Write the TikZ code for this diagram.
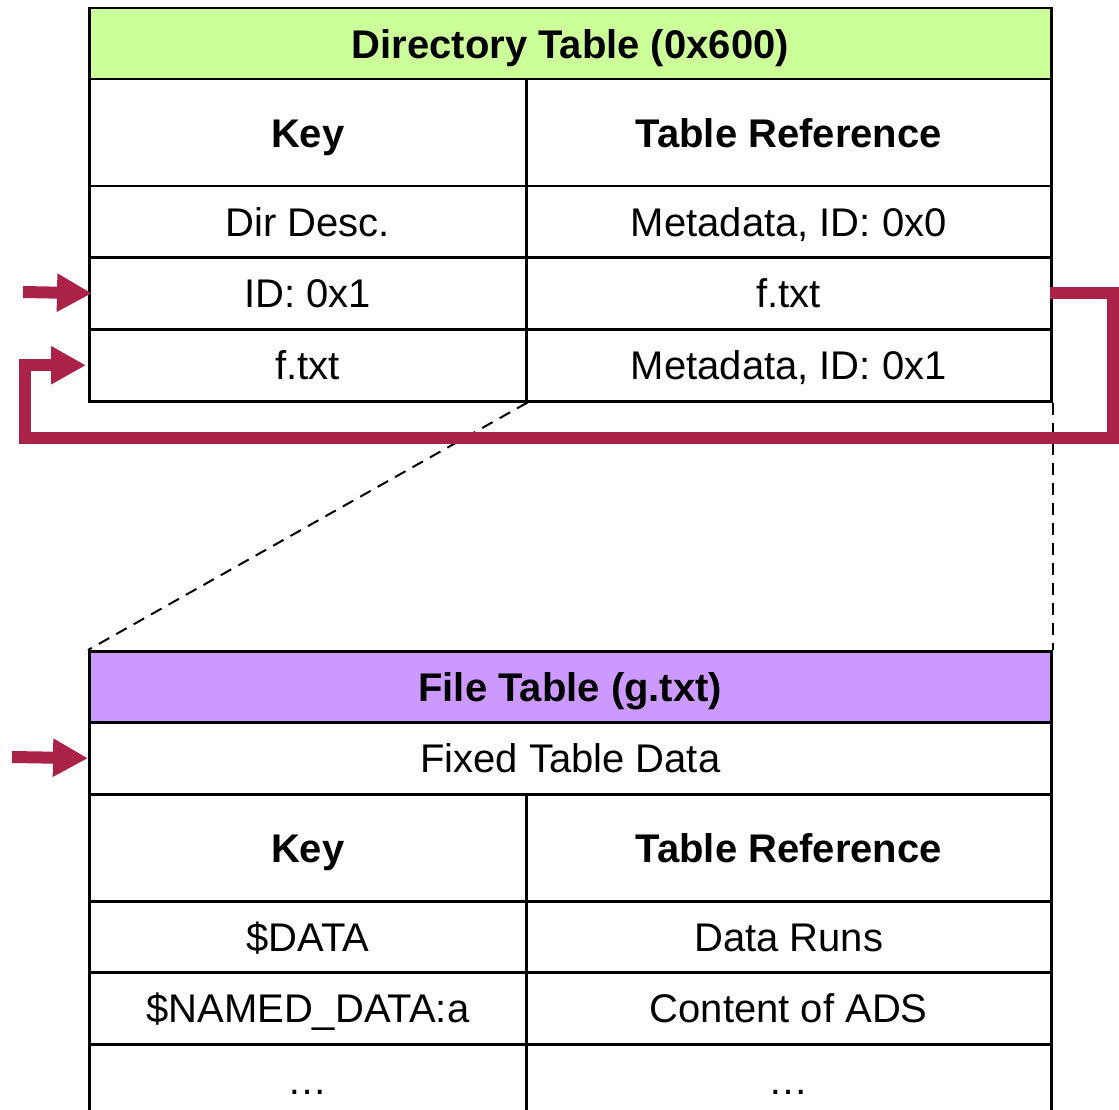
\documentclass[tikz,border=0pt]{standalone}
\usepackage{fontspec}
\setmainfont{Liberation Sans}
\usetikzlibrary{arrows.meta}
\definecolor{hdrgreen}{HTML}{CCFF99}
\definecolor{hdrpurple}{HTML}{CC99FF}
\definecolor{linkred}{RGB}{170,34,72}
\tikzset{
  cellbox/.style={draw=black, line width=2.5pt, inner sep=0pt, anchor=north west,
    text height=28.6pt, text depth=0pt,
    font=\fontsize{40}{48}\selectfont},
  headcell/.style={cellbox, font=\fontsize{40}{48}\selectfont\bfseries},
  pointer/.style={draw=linkred, line width=12pt, line join=miter,
    -{Triangle[length=35pt,width=36pt]}},
  zoomline/.style={draw=black, line width=2pt, dash pattern=on 12pt off 8pt},
}
\begin{document}
\begin{tikzpicture}[x=1pt,y=-1pt]
\useasboundingbox (0,0) rectangle (1119,1110);

% directory table
\node[headcell, fill=hdrgreen, minimum width=962pt, minimum height=71pt] (dh) at (88,7) {Directory Table (0x600)};
\node[headcell, minimum width=437pt, minimum height=107pt] (dk0) at (88,78) {Key};
\node[headcell, minimum width=525pt, minimum height=107pt] (dr0) at (525,78) {Table Reference};
\node[cellbox, minimum width=437pt, minimum height=71pt] (dk1) at (88,185) {Dir Desc.};
\node[cellbox, minimum width=525pt, minimum height=71pt] (dr1) at (525,185) {Metadata, ID: 0x0};
\node[cellbox, minimum width=437pt, minimum height=72pt] (dk2) at (88,256) {ID: 0x1};
\node[cellbox, minimum width=525pt, minimum height=72pt] (dr2) at (525,256) {f.txt};
\node[cellbox, minimum width=437pt, minimum height=72pt] (dk3) at (88,328) {f.txt};
\node[cellbox, minimum width=525pt, minimum height=72pt] (dr3) at (525,328) {Metadata, ID: 0x1};

% file table (continues below the page edge)
\node[headcell, fill=hdrpurple, minimum width=962pt, minimum height=71pt] (fh) at (88,650) {File Table (g.txt)};
\node[cellbox, minimum width=962pt, minimum height=72pt] (ff) at (88,721) {Fixed Table Data};
\node[headcell, minimum width=437pt, minimum height=107pt] (fk0) at (88,793) {Key};
\node[headcell, minimum width=525pt, minimum height=107pt] (fr0) at (525,793) {Table Reference};
\node[cellbox, minimum width=437pt, minimum height=71pt] (fk1) at (88,900) {\$DATA};
\node[cellbox, minimum width=525pt, minimum height=71pt] (fr1) at (525,900) {Data Runs};
\node[cellbox, minimum width=437pt, minimum height=72pt] (fk2) at (88,971) {\$NAMED\_DATA:a};
\node[cellbox, minimum width=525pt, minimum height=72pt] (fr2) at (525,971) {Content of ADS};
\node[cellbox, minimum width=437pt, minimum height=72pt] (fk3) at (88,1043) {…};
\node[cellbox, minimum width=525pt, minimum height=72pt] (fr3) at (525,1043) {…};

% expansion of the f.txt entry
\draw[zoomline] (dk3.south east) -- (fh.north west);
\draw[zoomline] (dr3.south east) -- (fh.north east);

% pointers
\coordinate (in1) at (23,292);
\coordinate (in2) at (12,757);
\coordinate (rt) at (1113,438);
\coordinate (lb) at (25,438);
\draw[pointer, shorten >=-4pt] (in1) -- (dk2.west);
\draw[pointer] (in2) -- (ff.west);
\draw[pointer, shorten <=-3pt, shorten >=2pt] (dr2.east) -| (rt) -- (lb) |- (dk3.west);
\end{tikzpicture}
\end{document}
